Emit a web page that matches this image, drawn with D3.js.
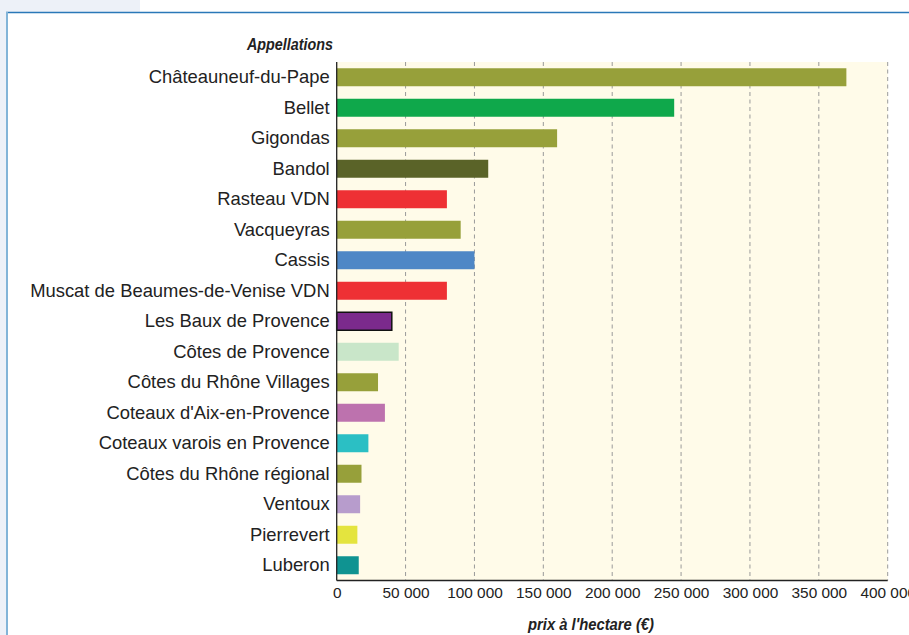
<!DOCTYPE html>
<html>
<head>
<meta charset="utf-8">
<script src="https://cdn.jsdelivr.net/npm/d3@7"></script>
<style>
  body { margin: 0; background: #fff; }
  svg { display: block; }
  svg text { font-family: "Liberation Sans", Arial, sans-serif; }
  .cat text { font-size: 18.4px; fill: #222; }
  .xlab text { font-size: 15.4px; fill: #222; }
  svg text.axis-title { font-family: "Liberation Sans Narrow", "Liberation Sans", Arial, sans-serif; font-weight: bold; font-style: italic; font-size: 17px; fill: #222; }
</style>
</head>
<body>
<svg id="chart"></svg>
<script>
const categories = [
  'Châteauneuf-du-Pape', 'Bellet', 'Gigondas', 'Bandol', 'Rasteau VDN', 'Vacqueyras',
  'Cassis', 'Muscat de Beaumes-de-Venise VDN', 'Les Baux de Provence', 'Côtes de Provence',
  'Côtes du Rhône Villages', "Coteaux d'Aix-en-Provence", 'Coteaux varois en Provence',
  'Côtes du Rhône régional', 'Ventoux', 'Pierrevert', 'Luberon'
];
const prices = [370000, 245000, 160000, 110000, 80000, 90000, 100000, 80000, 40000, 45000,
  30000, 35000, 23000, 18000, 17000, 15000, 16000];
const barColors = ['#97a03a', '#0fa84b', '#97a03a', '#5a6328', '#ee3034', '#97a03a',
  '#4e87c6', '#ee3034', '#7b2a8c', '#c9e6c9', '#97a03a', '#bd72ae', '#2bbfc4',
  '#97a03a', '#b79ccc', '#e4e43e', '#0f9391'];
const xTicks = [0, 50000, 100000, 150000, 200000, 250000, 300000, 350000, 400000];

const width = 909;
const height = 635;
const plot = { left: 336.7, right: 887.7, top: 62, bottom: 580.5 };

const data = categories.map((c, i) => ({ name: c, value: prices[i], color: barColors[i] }));

const svg = d3.select('#chart').attr('width', width).attr('height', height);

// Frame around the chart (cut by the window)
svg.append('rect').attr('x', 0).attr('y', 0).attr('width', 140).attr('height', 12).attr('fill', '#edf1f8');
svg.append('rect').attr('x', 0).attr('y', 0).attr('width', 6).attr('height', height).attr('fill', '#edf1f8');
svg.append('line').attr('x1', 6).attr('x2', width).attr('y1', 12.5).attr('y2', 12.5)
  .attr('stroke', '#2a78b8').attr('stroke-width', 1.5);
svg.append('line').attr('x1', 7).attr('x2', 7).attr('y1', 12).attr('y2', height)
  .attr('stroke', '#82b4d8').attr('stroke-width', 2);

const x = d3.scaleLinear()
  .domain([0, 400000])
  .range([plot.left, plot.right]);
const y = d3.scaleBand()
  .domain(categories)
  .range([plot.top, plot.bottom])
  .paddingInner(0.41)
  .paddingOuter(0.205);

const fr = d3.formatLocale({ decimal: ',', thousands: ' ', grouping: [3], currency: ['', ' €'] });

// Plot background
svg.append('rect')
  .attr('x', plot.left).attr('y', plot.top)
  .attr('width', plot.right - plot.left).attr('height', plot.bottom - plot.top)
  .attr('fill', '#fffbe9');

// Dashed gridlines
svg.append('g')
  .selectAll('line')
  .data(xTicks.slice(1))
  .enter().append('line')
    .attr('x1', d => x(d)).attr('x2', d => x(d))
    .attr('y1', plot.top).attr('y2', plot.bottom)
    .attr('stroke', '#9a9a9a')
    .attr('stroke-width', 1)
    .attr('stroke-dasharray', '4,3.5');

// Bars
svg.append('g')
  .selectAll('rect')
  .data(data)
  .enter().append('rect')
    .attr('x', x(0))
    .attr('y', d => y(d.name))
    .attr('width', d => x(d.value) - x(0))
    .attr('height', y.bandwidth())
    .attr('fill', d => d.color)
    .attr('stroke', d => d.name === 'Les Baux de Provence' ? '#111' : 'none')
    .attr('stroke-width', 1.5);

// Category labels
svg.append('g')
  .attr('class', 'cat')
  .attr('transform', `translate(${plot.left}, 0)`)
  .call(d3.axisLeft(y).tickSize(0).tickPadding(7))
  .call(g => g.select('.domain').remove());

// Value labels
svg.append('g')
  .attr('class', 'xlab')
  .attr('transform', `translate(0, ${plot.bottom})`)
  .call(d3.axisBottom(x).tickValues(xTicks).tickSize(0).tickPadding(7).tickFormat(fr.format(',')))
  .call(g => g.select('.domain').remove());

// Axis lines
svg.append('line')
  .attr('x1', plot.left).attr('x2', plot.left)
  .attr('y1', plot.top).attr('y2', plot.bottom)
  .attr('stroke', '#222').attr('stroke-width', 1.3);
svg.append('line')
  .attr('x1', plot.left).attr('x2', plot.right)
  .attr('y1', plot.bottom).attr('y2', plot.bottom)
  .attr('stroke', '#222').attr('stroke-width', 1.3);

// Axis titles (condensed, like the original)
svg.append('text')
  .attr('class', 'axis-title')
  .attr('x', 333).attr('y', 50)
  .attr('text-anchor', 'end')
  .attr('textLength', 86)
  .attr('lengthAdjust', 'spacingAndGlyphs')
  .text('Appellations');
svg.append('text')
  .attr('class', 'axis-title')
  .attr('x', 591).attr('y', 630)
  .attr('text-anchor', 'middle')
  .attr('textLength', 126)
  .attr('lengthAdjust', 'spacingAndGlyphs')
  .text("prix à l'hectare (€)");
</script>
</body>
</html>
